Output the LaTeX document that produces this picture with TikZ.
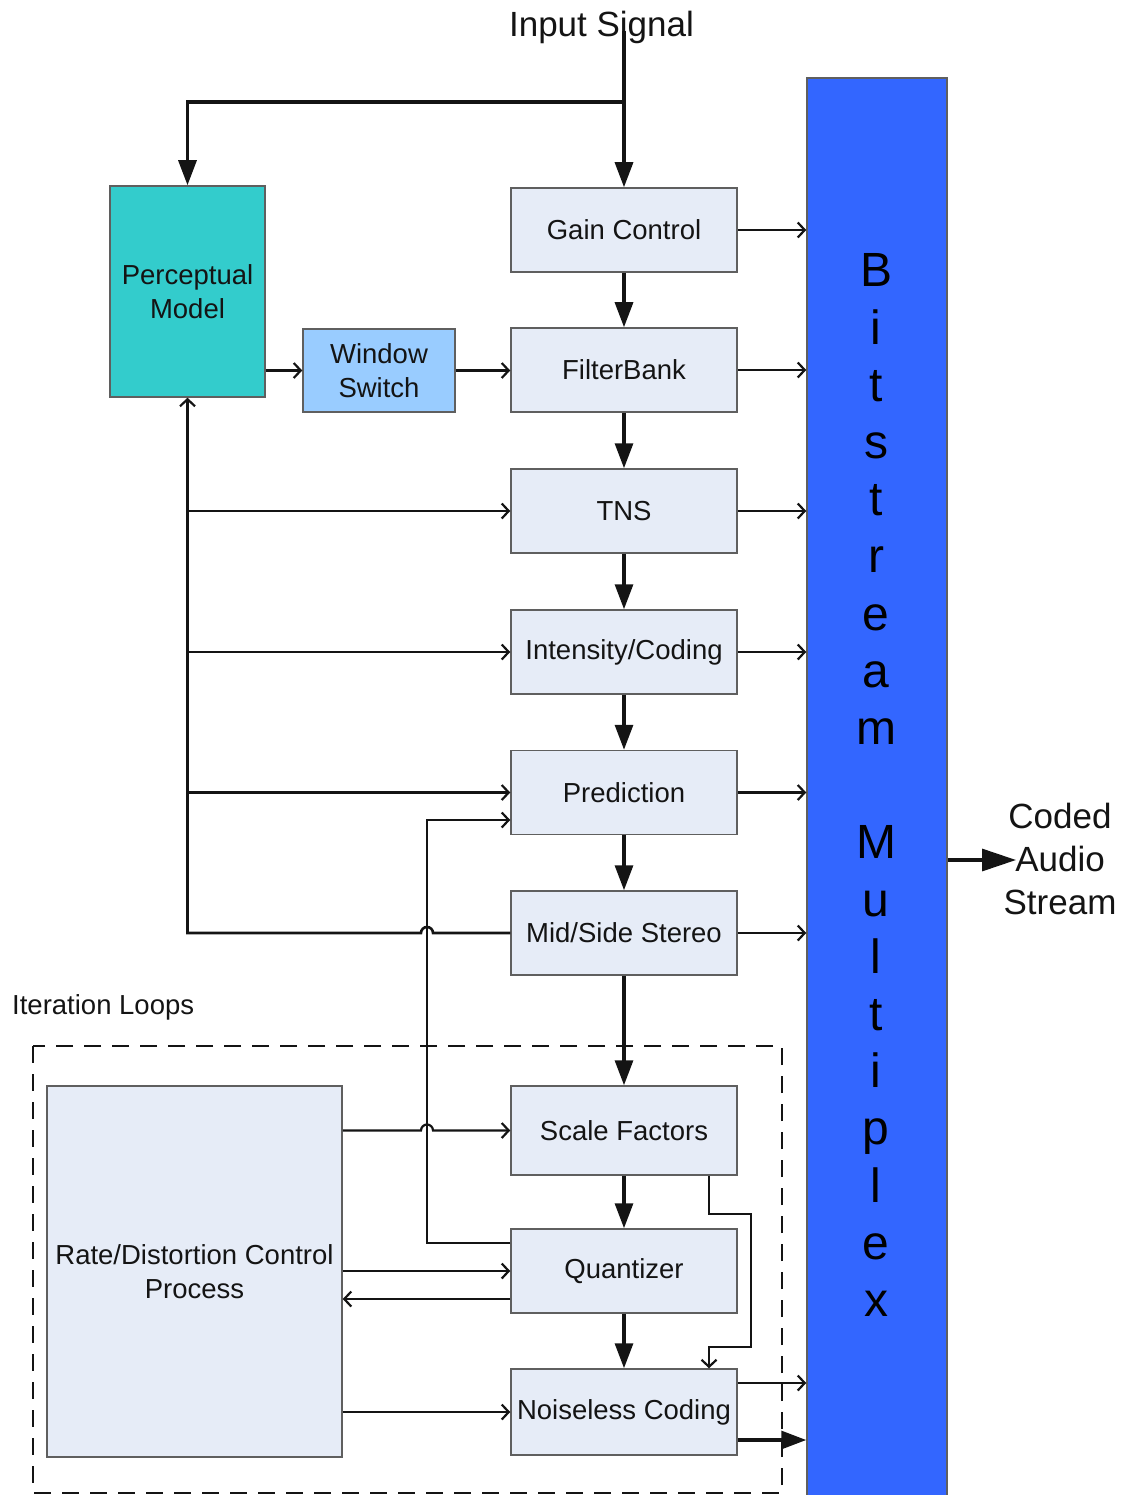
\documentclass[tikz,border=0pt]{standalone}
\usepackage{fontspec}
\setmainfont{Liberation Sans}
\usetikzlibrary{arrows.meta,calc}

\definecolor{procfill}{RGB}{230,236,247}
\definecolor{procedge}{RGB}{95,95,95}
\definecolor{pmfill}{RGB}{51,204,204}
\definecolor{wsfill}{RGB}{153,204,255}
\definecolor{muxblue}{RGB}{51,102,255}
\definecolor{ink}{RGB}{20,20,20}

\tikzset{
  labelfont/.style={font=\fontsize{27.5}{33.5}\selectfont},
  bigfont/.style={font=\fontsize{35}{43}\selectfont},
  procbox/.style={draw=procedge, line width=1.5pt, fill=procfill,
    minimum width=226pt, minimum height=84pt, inner sep=0pt,
    labelfont, align=center, text=ink},
  mainflow/.style={line width=3.2pt, draw=ink,
    -{Triangle[length=25pt,width=18pt]}},
  sideflow/.style={line width=2.2pt, draw=ink,
    -{Straight Barb[length=7pt,width=15pt,line width=2.2pt]}},
  busline/.style={line width=2.6pt, draw=ink},
}

\begin{document}
\begin{tikzpicture}[x=1pt, y=-1pt]
\useasboundingbox (0,0) rectangle (1125,1495);
\clip (0,0) rectangle (1125,1495);

% multiplexer column
\node[draw=procedge, line width=1.5pt, fill=muxblue, minimum width=140pt,
  minimum height=1432pt, inner sep=0pt] (mux) at (877,794) {};
\node[anchor=north, inner sep=0pt, align=center, text=black,
  font=\fontsize{48}{57.2}\selectfont] (muxlabel) at (876,253.6)
  {B\\i\\t\\s\\t\\r\\e\\a\\m\\ \\M\\u\\l\\t\\i\\p\\l\\e\\x};

% iteration loop frame
\draw[ink, line width=2pt, dash pattern=on 17pt off 11pt]
  (33,1046) rectangle (782,1493);
\node[labelfont, text=ink, anchor=base west, inner sep=0pt] (itl) at (12,1014) {Iteration Loops};

% processing chain
\node[procbox] (gain) at (624,230) {Gain Control};
\node[procbox] (fb)   at (624,370) {FilterBank};
\node[procbox] (tns)  at (624,511) {TNS};
\node[procbox] (ic)   at (624,652) {Intensity/Coding};
\node[procbox] (pred) at (624,792.5) {Prediction};
\node[procbox] (ms)   at (624,933) {Mid/Side Stereo};
\node[procbox, minimum height=89pt] (sf) at (624,1130.5) {Scale Factors};
\node[procbox] (qz)   at (624,1271) {Quantizer};
\node[procbox, minimum height=86pt] (nc) at (624,1412) {Noiseless Coding};

% side blocks
\node[procbox, fill=pmfill, minimum width=155pt, minimum height=211pt]
  (pm) at (187.5,291.5) {Perceptual\\Model};
\node[procbox, fill=wsfill, minimum width=152pt, minimum height=83pt]
  (ws) at (379,370.5) {Window\\Switch};
\node[procbox, minimum width=295pt, minimum height=371pt]
  (rd) at (194.5,1271.5) {Rate/Distortion Control\\Process};

% input
\node[bigfont, text=ink, anchor=base, inner sep=0pt] (insig) at (601.5,37) {Input Signal};
\coordinate (in) at (624,31);
\coordinate (split) at (624,102);
\draw[mainflow] (in) -- (gain.north);
\draw[mainflow] (split) -| (pm.north);

% main chain
\draw[mainflow] (gain.south) -- (fb.north);
\draw[mainflow] (fb.south) -- (tns.north);
\draw[mainflow] (tns.south) -- (ic.north);
\draw[mainflow] (ic.south) -- (pred.north);
\draw[mainflow] (pred.south) -- (ms.north);
\draw[mainflow] (ms.south) -- (sf.north);
\draw[mainflow] (sf.south) -- (qz.north);
\draw[mainflow] (qz.south) -- (nc.north);

% outputs into the multiplexer
\foreach \b in {gain,fb,tns,ic,pred,ms}
  \draw[sideflow] (\b.east) -- (\b.east -| mux.west);
\draw[sideflow] (nc.east |- 0,1383) -- (mux.west |- 0,1383);
\draw[mainflow] (nc.east |- 0,1440) -- (mux.west |- 0,1440);

% perceptual model links
\draw[sideflow] (pm.east |- ws.west) -- (ws.west);
\draw[sideflow] (ws.east) -- (ws.east -| fb.west);
\draw[busline, -{Straight Barb[length=7pt,width=15pt,line width=2.2pt]}]
  (ms.west) -- (433,933) arc[start angle=0, end angle=-180, radius=6]
  -- (pm.south |- ms.west) -- (pm.south);
\draw[sideflow] (pm.south |- tns.west) -- (tns.west);
\draw[sideflow] (pm.south |- ic.west) -- (ic.west);
\draw[sideflow] (pm.south |- pred.west) -- (pred.west);

% quantizer feedback to prediction
\draw[sideflow] (qz.west |- 0,1243) -- (427,1243) -- (427,820) -- (pred.west |- 0,820);

% rate/distortion loop
\draw[sideflow] (rd.east |- sf.west) -- (421,1130.5)
  arc[start angle=180, end angle=360, radius=6] -- (sf.west);
\draw[sideflow] (rd.east |- qz.west) -- (qz.west);
\draw[sideflow] (qz.west |- 0,1299) -- (rd.east |- 0,1299);
\draw[sideflow] (rd.east |- nc.west) -- (nc.west);

% scale factors to noiseless coding
\draw[sideflow] (sf.south -| 709,0) -- (709,1214) -- (751,1214) -- (751,1347)
  -- (709,1347) -- (nc.north -| 709,0);

% coded output
\node[bigfont, text=ink, align=center, inner sep=0pt] (cas) at (1060,859) {Coded\\Audio\\Stream};
\coordinate (outtip) at (1016,860);
\draw[line width=3.2pt, draw=ink, -{Triangle[length=34pt,width=22pt]}]
  (mux.east |- outtip) -- (outtip);
\end{tikzpicture}
\end{document}
